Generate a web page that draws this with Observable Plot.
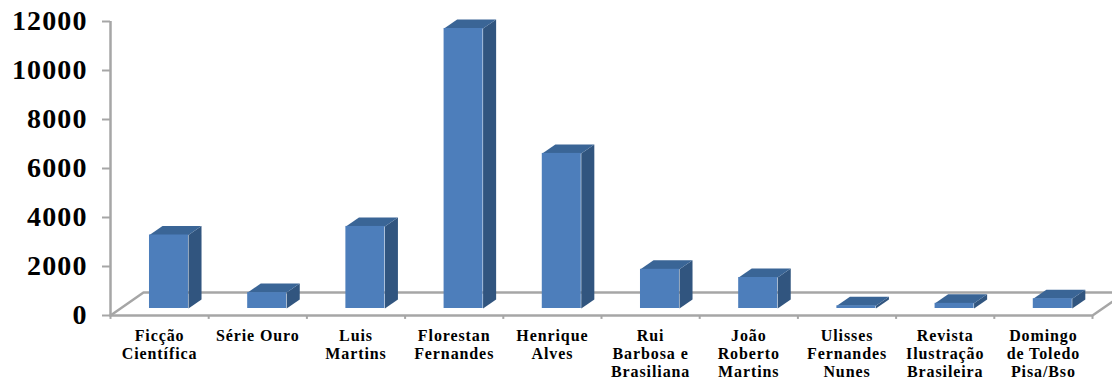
<!DOCTYPE html>
<html><head><meta charset="utf-8">
<script src="https://cdn.jsdelivr.net/npm/d3@7"></script>
<script src="https://cdn.jsdelivr.net/npm/@observablehq/plot@0.6"></script>
<style>html,body{margin:0;padding:0;background:#fff;overflow:hidden}
g[font-size="16"]{letter-spacing:0.9px}
g[font-size="28"]{letter-spacing:1.1px}</style>
</head><body><div id="chart"></div>
<script>
const categories = ["Ficção\nCientífica","Série Ouro","Luis\nMartins","Florestan\nFernandes","Henrique\nAlves","Rui\nBarbosa e\nBrasiliana","João\nRoberto\nMartins","Ulisses\nFernandes\nNunes","Revista\nIlustração\nBrasileira","Domingo\nde Toledo\nPisa/Bso"];
const values = [3000,650,3350,11430,6330,1600,1265,110,210,400];
const yTicks = [0,2000,4000,6000,8000,10000,12000];
const barStart = 0.397, barEnd = 0.794;
const depthX = 0.133, depthY = 367;
const floorX = 0.336, floorY = 939;
const grey = "#a6a6a6", serif = "'Liberation Serif', serif";

const rows = values.map((v,i)=>({i,v,name:categories[i],x1:i+barStart,x2:i+barEnd}));
const topFaces = rows.flatMap(r=>[[r.x1,r.v],[r.x2,r.v],[r.x2+depthX,r.v+depthY],[r.x1+depthX,r.v+depthY]].map(p=>({i:r.i,x:p[0],y:p[1]})));
const sideFaces = rows.flatMap(r=>[[r.x2,0],[r.x2+depthX,depthY],[r.x2+depthX,r.v+depthY],[r.x2,r.v]].map(p=>({i:r.i,x:p[0],y:p[1]})));
const floorLines = [
  {k:"l",x:0,y:0},{k:"l",x:floorX,y:floorY},{k:"l",x:10.2,y:floorY},
  {k:"f",x:0,y:0},{k:"f",x:10,y:0},{k:"f",x:10.336,y:floorY}
];
const chart = Plot.plot({
  width:1112,height:380,marginLeft:110,marginRight:20,marginTop:21,marginBottom:65,
  style:{background:"#fff"},
  x:{domain:[0,10],axis:null},
  y:{domain:[0,12000],label:null,axis:null},
  marks:[
    Plot.line(floorLines,{x:"x",y:"y",z:"k",stroke:grey,strokeWidth:2.5}),
    Plot.ruleX([0],{y1:0,y2:12000,stroke:grey,strokeWidth:2.5}),
    Plot.axisY({ticks:yTicks,tickFormat:d=>String(d),tickSize:8,tickPadding:15,stroke:grey,strokeWidth:2,label:null,fontSize:28,fontWeight:"bold",fontFamily:serif,fill:"#000",marginLeft:110}),
    Plot.ruleX(d3.range(0,11),{x:d=>d,y1:0,y2:-160,stroke:grey,strokeWidth:2}),
    Plot.line(sideFaces,{x:"x",y:"y",z:"i",fill:"#31557f",stroke:"none",dy:-7}),
    Plot.line(topFaces,{x:"x",y:"y",z:"i",fill:"#3a6596",stroke:"none",dy:-7}),
    Plot.rect(rows,{x1:"x1",x2:"x2",y1:0,y2:"v",fill:"#4d7ebb",dy:-7}),
    Plot.text(rows,{x:d=>d.i+0.5,y:0,text:"name",dy:12,lineAnchor:"top",lineHeight:1.15,fontSize:16,fontWeight:"bold",fontFamily:serif,fill:"#000"})
  ]
});
document.getElementById("chart").appendChild(chart);
</script></body></html>
